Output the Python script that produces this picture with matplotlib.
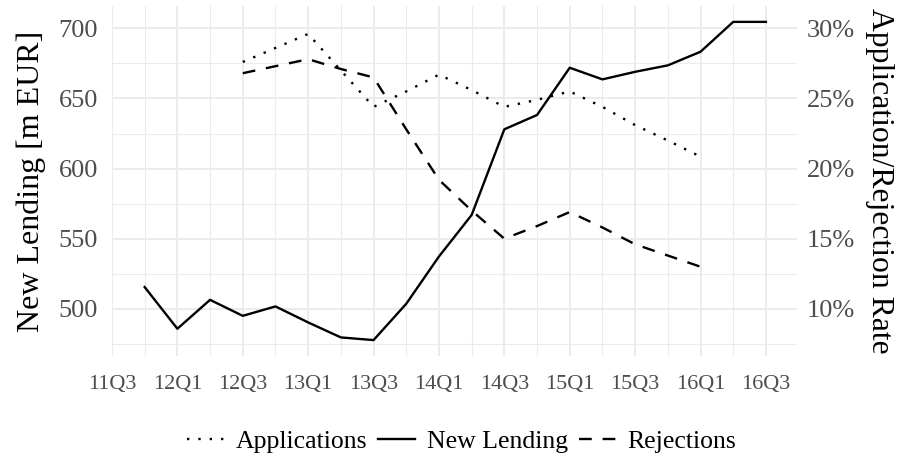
import numpy as np
import matplotlib.pyplot as plt
from matplotlib.ticker import FixedLocator, FuncFormatter

plt.rcParams['font.family'] = ['Liberation Serif', 'DejaVu Serif']

quarters = ['11Q3', '11Q4', '12Q1', '12Q2', '12Q3', '12Q4', '13Q1', '13Q2',
            '13Q3', '13Q4', '14Q1', '14Q2', '14Q3', '14Q4', '15Q1', '15Q2',
            '15Q3', '15Q4', '16Q1', '16Q2', '16Q3']

# new lending in m EUR, 11Q4 .. 16Q3
lending_q = quarters[1:]
lending = [515.5, 485.8, 506.4, 495.0, 501.7, 490.3, 479.6, 477.7, 503.6, 537.3,
           566.9, 628.0, 638.2, 671.9, 663.6, 669.0, 673.6, 683.3, 704.6, 704.6]

# rates in %, 12Q3 .. 16Q1
rate_q = quarters[4:19]
applications = [27.6, 28.6, 29.6, 27.0, 24.4, 25.5, 26.7, 25.6, 24.4, 24.9,
                 25.5, 24.4, 23.1, 22.0, 20.85]
rejections = [26.8, 27.3, 27.8, 27.1, 26.5, 22.8, 19.2, 17.0, 15.0, 15.9,
              16.9, 15.8, 14.6, 13.8, 13.0]

# secondary axis: rate% <-> lending scale
to_left = lambda r: 400 + 10 * np.asarray(r)
to_right = lambda v: (np.asarray(v) - 400) / 10

qidx = {q: i for i, q in enumerate(quarters)}
x_l = [qidx[q] for q in lending_q]
x_r = [qidx[q] for q in rate_q]

fig, ax = plt.subplots(figsize=(8.98, 4.59), dpi=100)
fig.subplots_adjust(left=0.1247, right=0.8875, top=0.987, bottom=0.2244)
ax2 = ax.twinx()

lw = 1.7
l_app, = ax2.plot(x_r, applications, color='black', lw=lw, dashes=(1, 3.8),
                  label='Applications')
l_len, = ax.plot(x_l, lending, color='black', lw=lw, label='New Lending')
l_rej, = ax2.plot(x_r, rejections, color='black', lw=lw, dashes=(5.4, 4.6),
                  label='Rejections')

# y limits with 5% expansion over everything on the lending scale
allv = np.concatenate([lending, to_left(applications), to_left(rejections)])
lo, hi = allv.min(), allv.max()
pad = (hi - lo) * 0.05
ax.set_ylim(lo - pad, hi + pad)
ax2.set_ylim(to_right(lo - pad), to_right(hi + pad))

xmin, xmax = min(x_l), max(x_l)
xpad = (xmax - xmin) * 0.05
ax.set_xlim(xmin - xpad, xmax + xpad)

ax.set_xticks(range(0, len(quarters), 2))
ax.set_xticklabels(quarters[::2])
ax.xaxis.set_minor_locator(FixedLocator(range(1, len(quarters), 2)))
ax.set_yticks([500, 550, 600, 650, 700])
ax.yaxis.set_minor_locator(FixedLocator([475, 525, 575, 625, 675, 725]))
ax2.set_yticks([10, 15, 20, 25, 30])
ax2.yaxis.set_major_formatter(FuncFormatter(lambda v, p: '%d%%' % v))

ax.grid(which='major', color='#EBEBEB', lw=1.4)
ax.grid(which='minor', color='#EBEBEB', lw=0.8)
ax.set_axisbelow(True)
for a in (ax, ax2):
    for s in a.spines.values():
        s.set_visible(False)
    a.tick_params(which='both', length=0, labelsize=19, labelcolor='#4D4D4D')
ax.tick_params(axis='x', labelsize=16, pad=14)
ax.tick_params(axis='y', pad=10)
ax2.tick_params(axis='y', pad=7)

ax.set_ylabel('New Lending [m EUR]', fontsize=23, labelpad=9)
ax2.set_ylabel('Application/Rejection Rate', fontsize=22.8, rotation=-90,
               labelpad=28)

fig.legend(handles=[l_app, l_len, l_rej], loc='center',
           bbox_to_anchor=(0.514, 0.038), ncol=3, frameon=False, fontsize=18.5,
           handlelength=1.45, handletextpad=0.43, columnspacing=0.43)

fig.savefig('out.png', dpi=100)
